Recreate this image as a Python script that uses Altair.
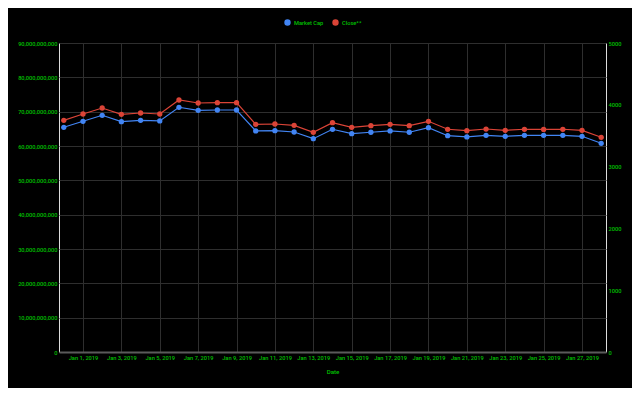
import altair as alt
import pandas as pd

dates = pd.date_range("2018-12-31", "2019-01-28", freq="D").strftime("%Y-%m-%dT00:00:00").tolist()

market_cap = [65.45e9, 67.2e9, 68.95e9, 67.08e9, 67.49e9, 67.29e9, 71.28e9, 70.4e9, 70.49e9, 70.49e9,
              64.38e9, 64.46e9, 64.08e9, 62.13e9, 64.87e9, 63.59e9, 64.0e9, 64.38e9, 64.0e9, 65.34e9,
              63.0e9, 62.63e9, 63.12e9, 62.83e9, 63.12e9, 63.1e9, 63.12e9, 62.83e9, 60.79e9]
close = [3749, 3851, 3948, 3846, 3867, 3851, 4078, 4029, 4034, 4034,
         3684, 3689, 3668, 3555, 3710, 3636, 3662, 3684, 3662, 3733,
         3604, 3581, 3608, 3587, 3604, 3602, 3604, 3587, 3474]

series_names = ["Market Cap", "Close**"]
series_colors = ["#4285F4", "#DB4437"]
left_ticks = [i * 10_000_000_000 for i in range(10)]
right_ticks = [0, 1000, 2000, 3000, 4000, 5000]
x_ticks = [alt.DateTime(year=2019, month=1, date=d) for d in range(1, 28, 2)]

df = pd.DataFrame({"Date": dates, "MarketCap": market_cap, "Close": close})

TEXT = "#00c000"
GRID = "#2e2e2e"
FS = 5.7
FW = 500

color_scale = alt.Scale(domain=series_names, range=series_colors)
x_enc = alt.X(
    "Date:T",
    title="Date",
    scale=alt.Scale(domain=[alt.DateTime(year=2018, month=12, date=30, hours=18),
                            alt.DateTime(year=2019, month=1, date=28, hours=6)]),
    axis=alt.Axis(values=x_ticks, format="%b %-d, %Y", grid=True, gridColor=GRID,
                  domainColor="#5a5a5a", domainWidth=2, ticks=False, labelPadding=2,
                  labelOverlap=False, labelFontSize=FS, labelFontWeight=FW, labelColor=TEXT,
                  titleColor=TEXT, titleFontSize=6.2, titleFontWeight=FW, titlePadding=9),
)

base = alt.Chart(df)
pt = alt.OverlayMarkDef(filled=True, size=28, opacity=1)

left = base.transform_calculate(series="'Market Cap'").mark_line(strokeWidth=1.2, point=pt).encode(
    x=x_enc,
    y=alt.Y("MarketCap:Q",
            scale=alt.Scale(domain=[0, 90_000_000_000], nice=False),
            axis=alt.Axis(values=left_ticks, format=",d", title=None, grid=True, gridColor=GRID,
                          domain=False, ticks=False, labelPadding=2, labelFontSize=FS,
                          labelFontWeight=FW, labelColor=TEXT)),
    color=alt.Color("series:N", scale=color_scale,
                    legend=alt.Legend(title=None, orient="none", direction="horizontal",
                                      legendX=225, legendY=-24,
                                      symbolType="circle", symbolSize=24, labelFontSize=FS,
                                      labelFontWeight=FW, labelOffset=3, labelColor=TEXT,
                                      columnPadding=6)),
)

right = base.transform_calculate(series="'Close**'").mark_line(strokeWidth=1.2, point=pt).encode(
    x=x_enc,
    y=alt.Y("Close:Q",
            scale=alt.Scale(domain=[0, 5000], nice=False),
            axis=alt.Axis(orient="right", values=right_ticks, format="d", title=None, grid=False,
                          domain=False, ticks=False, labelPadding=2, labelFontSize=FS,
                          labelFontWeight=FW, labelColor=TEXT)),
    color=alt.Color("series:N", scale=color_scale),
)

chart = alt.layer(left, right).resolve_scale(y="independent").properties(
    width=547, height=309,
    background="#000000",
    padding={"left": 51, "top": 35, "right": 26, "bottom": 36},
    autosize=alt.AutoSizeParams(type="none"),
).configure_view(stroke=None).configure(font="Roboto")

chart.save("out.html", embed_options={"renderer": "svg", "actions": False})
